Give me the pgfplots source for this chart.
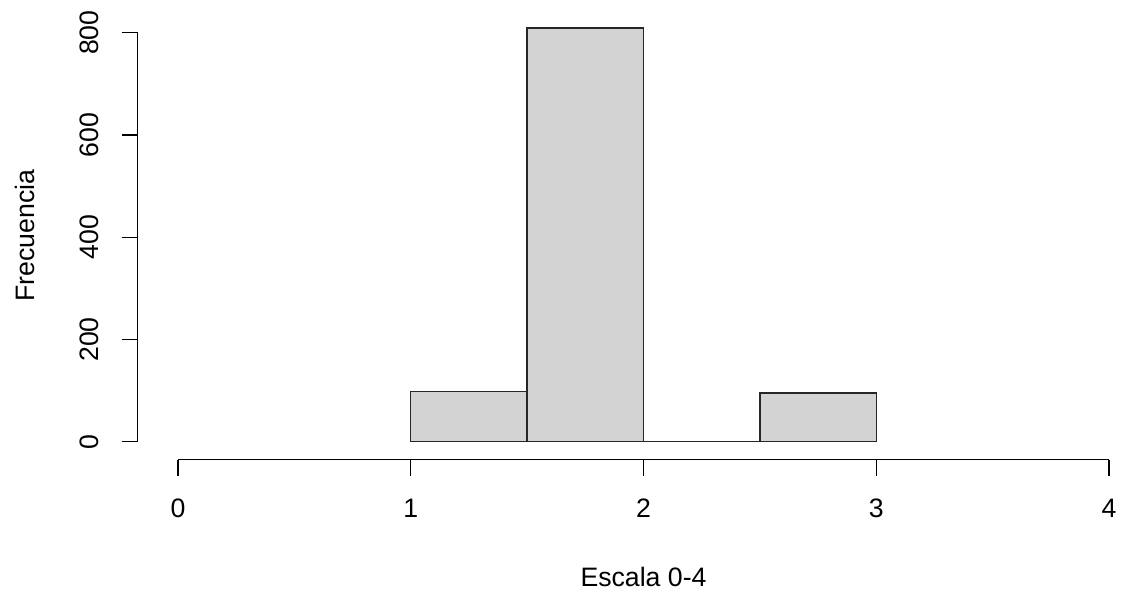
\documentclass[border=0pt]{standalone}
\usepackage{fontspec}
\setmainfont{Liberation Sans}
\usepackage{pgfplots}
\pgfplotsset{compat=1.18}
\definecolor{histgray}{HTML}{D3D3D3}

\begin{document}
\begin{tikzpicture}
\begin{axis}[
  at={(0,0)}, anchor=south west,
  scale only axis,
  width=737.2pt, height=335.8pt,
  xmin=-0.173, xmax=4.05,
  ymin=-34.8, ymax=841,
  axis lines=left,
  axis line style={draw=none},
  clip=false,
  tick align=outside,
  major tick length=12pt,
  tick style={black, line width=1pt},
  xtick={0,1,2,3,4},
  ytick={0,200,400,600,800},
  /pgf/number format/assume math mode=true,
  ticklabel style={font=\fontsize{20}{24}\selectfont},
  xticklabel style={anchor=center, yshift=-24.4pt},
  yticklabel style={anchor=center, xshift=-24.4pt, rotate=90},
  xlabel={Escala 0-4},
  ylabel={Frecuencia},
  every axis x label/.style={at={(axis description cs:0.5146,-0.2615)}, anchor=center,
    font=\fontsize{20}{24}\selectfont},
  every axis y label/.style={at={(axis description cs:-0.1146,0.5)}, anchor=center, rotate=90,
    font=\fontsize{20}{24}\selectfont},
]
\addplot[ybar interval, fill=histgray, draw=black!85, line width=1pt]
  coordinates {(1,98) (1.5,809) (2,0) (2.5,95) (3,95)};
\draw[line width=1pt] (axis cs:0,-34.8) -- (axis cs:4,-34.8);
\draw[line width=1pt] (axis cs:-0.173,0) -- (axis cs:-0.173,800);
\end{axis}
\useasboundingbox (-103.28pt,-103.125pt) rectangle ++(841.5pt,447.75pt);
\end{tikzpicture}
\end{document}
